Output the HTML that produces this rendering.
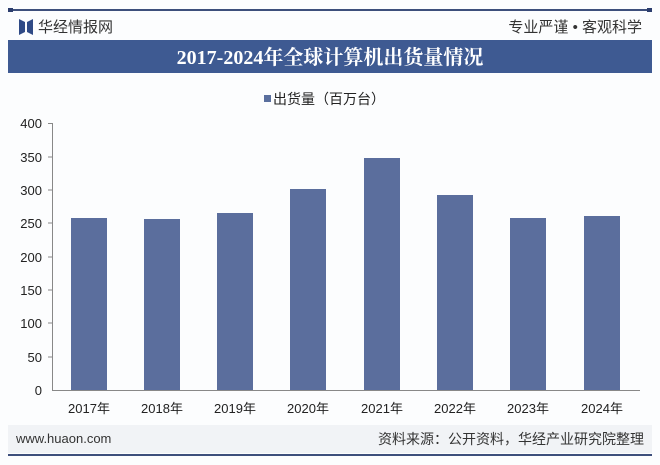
<!DOCTYPE html>
<html><head><meta charset="utf-8"><style>
body{margin:0;background:#fff;}
svg{display:block;font-family:"Liberation Sans","Noto Sans CJK SC",sans-serif;}
</style></head><body>
<svg width="660" height="465" viewBox="0 0 660 465" xmlns="http://www.w3.org/2000/svg">
<rect width="660" height="465" fill="#fcfdfe"/>
<rect x="8" y="9" width="644" height="2" fill="#3d4f7c"/>
<rect x="8" y="8" width="5" height="4" fill="#2c3e6e"/><rect x="647" y="8" width="5" height="4" fill="#2c3e6e"/>
<path d="M19 19 L25 22 L25 32 L19 35 Z M27 22 L33 19 L33 35 L27 32 Z" fill="#2f4a86"/>
<text x="38" y="32" font-size="15" fill="#333">华经情报网</text>
<text x="642" y="32" font-size="15" fill="#333" text-anchor="end">专业严谨 • 客观科学</text>
<rect x="8" y="40" width="644" height="33" fill="#3e5a92"/>
<text x="330" y="64" font-size="20" font-weight="bold" fill="#fff" text-anchor="middle" font-family="Liberation Serif,Noto Serif CJK SC,serif">2017-2024年全球计算机出货量情况</text>
<rect x="264" y="95" width="7" height="7" fill="#5a6f9e"/>
<text x="273" y="104" font-size="14" fill="#222">出货量（百万台）</text>
<g font-size="13" fill="#222" text-anchor="end">
<text x="42" y="128">400</text><text x="42" y="162">350</text><text x="42" y="195">300</text><text x="42" y="228">250</text>
<text x="42" y="262">200</text><text x="42" y="295">150</text><text x="42" y="328">100</text><text x="42" y="362">50</text><text x="42" y="395">0</text>
</g>
<g stroke="#888" stroke-width="1">
<line x1="52.5" y1="123" x2="52.5" y2="390"/>
<line x1="52" y1="390.5" x2="640" y2="390.5"/>
<line x1="48" y1="123.5" x2="52" y2="123.5"/><line x1="48" y1="157" x2="52" y2="157"/><line x1="48" y1="190" x2="52" y2="190"/><line x1="48" y1="223" x2="52" y2="223"/><line x1="48" y1="257" x2="52" y2="257"/><line x1="48" y1="290" x2="52" y2="290"/><line x1="48" y1="323" x2="52" y2="323"/><line x1="48" y1="357" x2="52" y2="357"/>
</g>
<g fill="#5b6e9d">
<rect x="71" y="218" width="36" height="172"/>
<rect x="144" y="219" width="36" height="171"/>
<rect x="217" y="213" width="36" height="177"/>
<rect x="290" y="189" width="36" height="201"/>
<rect x="364" y="158" width="36" height="232"/>
<rect x="437" y="195" width="36" height="195"/>
<rect x="510" y="218" width="36" height="172"/>
<rect x="584" y="216" width="36" height="174"/>
</g>
<g font-size="13" fill="#222" text-anchor="middle">
<text x="89" y="413">2017年</text><text x="162" y="413">2018年</text><text x="235" y="413">2019年</text><text x="308" y="413">2020年</text>
<text x="382" y="413">2021年</text><text x="455" y="413">2022年</text><text x="528" y="413">2023年</text><text x="602" y="413">2024年</text>
</g>
<rect x="8" y="425" width="644" height="28" fill="#f1f3f6"/>
<text x="16" y="443" font-size="13" fill="#333">www.huaon.com</text>
<text x="644" y="444" font-size="14" fill="#333" text-anchor="end">资料来源：公开资料，华经产业研究院整理</text>
<rect x="8" y="454" width="644" height="2" fill="#3d4f7c"/>
</svg>
</body></html>
